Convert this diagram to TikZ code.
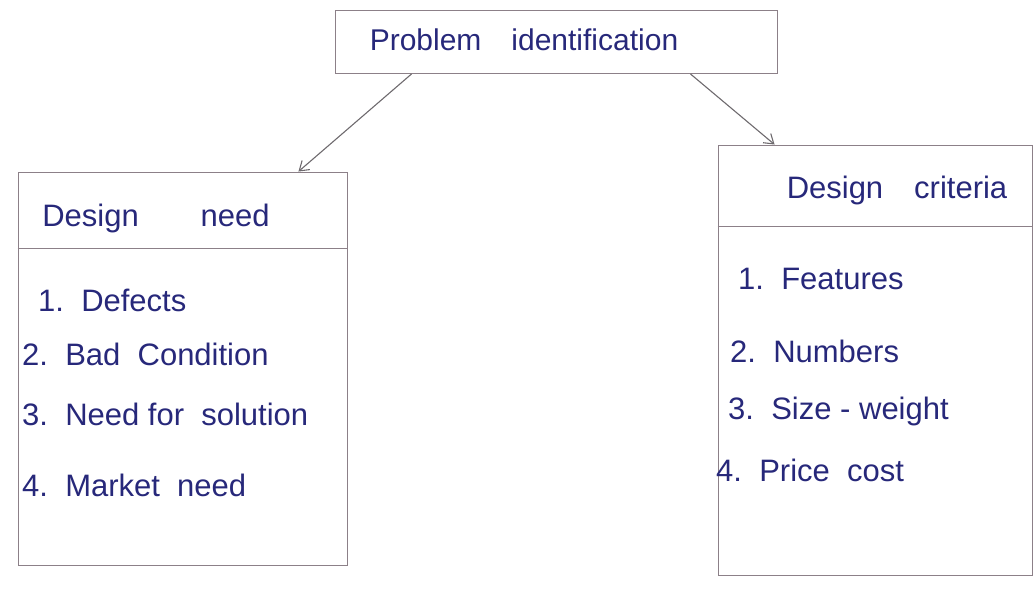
\documentclass[tikz,border=0pt]{standalone}
\usepackage{fontspec}
\setmainfont{Liberation Sans}
\usetikzlibrary{arrows.meta,calc}
\definecolor{ink}{HTML}{27287A}
\definecolor{pencil}{HTML}{8C8088}
\definecolor{arrowgrey}{HTML}{6E6A6E}
\tikzset{
  box/.style={draw=pencil, line width=0.9pt, rectangle, inner sep=0pt},
  divider/.style={draw=pencil, line width=0.8pt},
  conn/.style={draw=arrowgrey, line width=1.1pt, -{Straight Barb[length=9pt,width=12pt]}},
  handtext/.style={text=ink, font=\fontsize{31}{34}\selectfont, anchor=base west, inner sep=0pt},
  titletext/.style={text=ink, font=\fontsize{30}{34}\selectfont, anchor=base, inner sep=0pt}
}
\begin{document}
\begin{tikzpicture}[x=1pt,y=-1pt]
  \useasboundingbox (0,0) rectangle (1035,605);

  % boxes
  \node[box, minimum width=442pt, minimum height=63pt] (top) at (556,42) {};
  \node[box, minimum width=329pt, minimum height=393pt] (need) at (182.5,368.5) {};
  \node[box, minimum width=314pt, minimum height=430pt] (crit) at (875,360) {};

  % header dividers
  \draw[divider] ($(need.north west)+(0,77)$) -- ($(need.north east)+(0,77)$);
  \draw[divider] ($(crit.north west)+(0,82)$) -- ($(crit.north east)+(0,82)$);

  % top heading
  \node[titletext] (ttl) at (524,50) {Problem\quad identification};

  % left column
  \node[titletext, font=\fontsize{31}{34}\selectfont] (needttl) at (156,226) {Design\qquad need};
  \node[handtext] (n1) at (38,311) {1.\ \ Defects};
  \node[handtext] (n2) at (22,365) {2.\ \ Bad\ \ Condition};
  \node[handtext] (n3) at (22,425) {3.\ \ Need for\ \ solution};
  \node[handtext] (n4) at (22,496) {4.\ \ Market\ \ need};

  % right column
  \node[titletext, font=\fontsize{31}{34}\selectfont] (critttl) at (897,198) {Design\quad criteria};
  \node[handtext] (c1) at (738,289) {1.\ \ Features};
  \node[handtext] (c2) at (730,362) {2.\ \ Numbers};
  \node[handtext] (c3) at (728,419) {3.\ \ Size - weight};
  \node[handtext] (c4) at (716,481) {4.\ \ Price\ \ cost};

  % connectors
  \draw[conn] ([xshift=77pt]top.south west) -- ([xshift=-49pt]need.north east);
  \draw[conn] ([xshift=-87pt]top.south east) -- ([xshift=57pt]crit.north west);
\end{tikzpicture}
\end{document}
